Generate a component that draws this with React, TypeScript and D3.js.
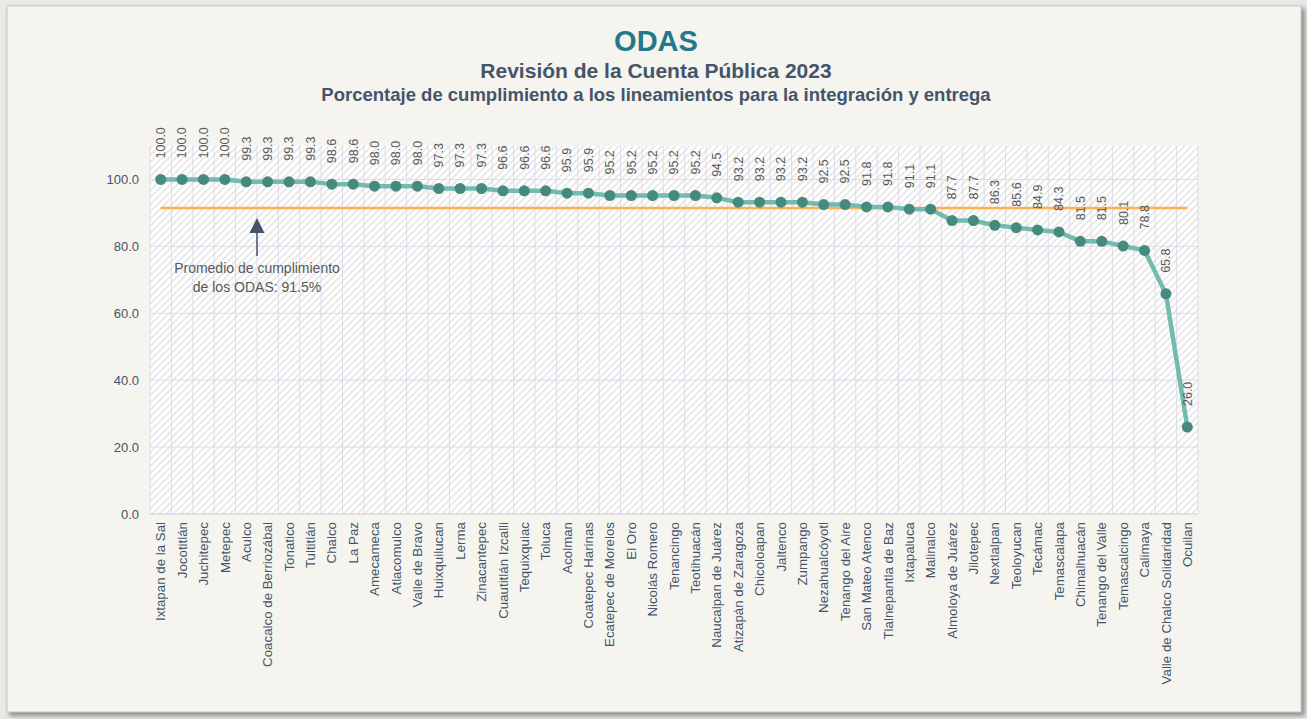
import React, { useEffect, useRef } from 'react';
import * as d3 from 'd3';

const categories = [
  'Ixtapan de la Sal', 'Jocotitlán', 'Juchitepec', 'Metepec', 'Aculco',
  'Coacalco de Berriozábal', 'Tonatico', 'Tultitlán', 'Chalco', 'La Paz',
  'Amecameca', 'Atlacomulco', 'Valle de Bravo', 'Huixquilucan', 'Lerma',
  'Zinacantepec', 'Cuautitlán Izcalli', 'Tequixquiac', 'Toluca', 'Acolman',
  'Coatepec Harinas', 'Ecatepec de Morelos', 'El Oro', 'Nicolás Romero', 'Tenancingo',
  'Teotihuacán', 'Naucalpan de Juárez', 'Atizapán de Zaragoza', 'Chicoloapan', 'Jaltenco',
  'Zumpango', 'Nezahualcóyotl', 'Tenango del Aire', 'San Mateo Atenco', 'Tlalnepantla de Baz',
  'Ixtapaluca', 'Malinalco', 'Almoloya de Juárez', 'Jilotepec', 'Nextlalpan',
  'Teoloyucan', 'Tecámac', 'Temascalapa', 'Chimalhuacán', 'Tenango del Valle',
  'Temascalcingo', 'Calimaya', 'Valle de Chalco Solidaridad', 'Ocuilan',
];

const values = [
  100.0, 100.0, 100.0, 100.0, 99.3,
  99.3, 99.3, 99.3, 98.6, 98.6,
  98.0, 98.0, 98.0, 97.3, 97.3,
  97.3, 96.6, 96.6, 96.6, 95.9,
  95.9, 95.2, 95.2, 95.2, 95.2,
  95.2, 94.5, 93.2, 93.2, 93.2,
  93.2, 92.5, 92.5, 91.8, 91.8,
  91.1, 91.1, 87.7, 87.7, 86.3,
  85.6, 84.9, 84.3, 81.5, 81.5,
  80.1, 78.8, 65.8, 26.0,
];

const yTicks = [0, 20, 40, 60, 80, 100];
const average = 91.5;
const annotationLines = ['Promedio de cumplimiento', 'de los ODAS: 91.5%'];

const FONT = '"Liberation Sans", Arial, sans-serif';
const WIDTH = 1307;
const HEIGHT = 719;

function App() {
  const svgRef = useRef<SVGSVGElement | null>(null);

  useEffect(() => {
    const svg = d3.select(svgRef.current);
    svg.selectAll('*').remove();

    const defs = svg.append('defs');

    // diagonal hatch used for the plot area
    const pattern = defs.append('pattern')
      .attr('id', 'hatch')
      .attr('patternUnits', 'userSpaceOnUse')
      .attr('width', 5)
      .attr('height', 5)
      .attr('patternTransform', 'rotate(45)');
    pattern.append('rect').attr('width', 5).attr('height', 5).attr('fill', '#ffffff');
    pattern.append('rect').attr('width', 2).attr('height', 5).attr('fill', '#e9e9e9');

    const blur = defs.append('filter').attr('id', 'shadow').attr('x', '-5%').attr('y', '-5%').attr('width', '110%').attr('height', '110%');
    blur.append('feGaussianBlur').attr('stdDeviation', 2.5);

    // frame
    svg.append('rect').attr('width', WIDTH).attr('height', HEIGHT).attr('fill', '#e9e9e7');
    svg.append('rect')
      .attr('x', 9).attr('y', 8).attr('width', 1296).attr('height', 708)
      .attr('fill', '#8c8c8a')
      .attr('filter', 'url(#shadow)');
    svg.append('rect')
      .attr('x', 7).attr('y', 6).attr('width', 1294).attr('height', 706)
      .attr('fill', '#f5f4ee')
      .attr('stroke', '#c9c9c7')
      .attr('stroke-width', 1);

    const x = d3.scaleBand<string>().domain(categories).range([150, 1198]);
    const y = d3.scaleLinear().domain([0, 110]).range([514, 146]);
    const cx = (c: string) => (x(c) as number) + x.bandwidth() / 2;

    const [x0, x1] = x.range();

    // plot area
    svg.append('rect')
      .attr('x', x0).attr('y', y(110))
      .attr('width', x1 - x0).attr('height', y(0) - y(110))
      .attr('fill', 'url(#hatch)');

    const grid = svg.append('g').attr('stroke', '#dfdbea').attr('stroke-width', 1);
    grid.selectAll('line.h')
      .data(yTicks.filter(t => t > 0))
      .enter()
      .append('line')
      .attr('class', 'h')
      .attr('x1', x0).attr('x2', x1)
      .attr('y1', d => y(d)).attr('y2', d => y(d));
    grid.selectAll('line.v')
      .data(categories.map(c => x(c) as number).concat([x1]))
      .enter()
      .append('line')
      .attr('class', 'v')
      .attr('x1', d => d).attr('x2', d => d)
      .attr('y1', y(110)).attr('y2', y(0));

    svg.append('line')
      .attr('x1', x0).attr('x2', x1)
      .attr('y1', y(0)).attr('y2', y(0))
      .attr('stroke', '#d9d9d9')
      .attr('stroke-width', 1.5);

    // y axis labels
    svg.append('g')
      .selectAll('text')
      .data(yTicks)
      .enter()
      .append('text')
      .attr('x', 139)
      .attr('y', d => y(d))
      .attr('dy', '0.35em')
      .attr('text-anchor', 'end')
      .attr('font-family', FONT)
      .attr('font-size', '13px')
      .attr('fill', '#44546a')
      .text(d => d.toFixed(1));

    // x axis labels
    svg.append('g')
      .selectAll('text')
      .data(categories)
      .enter()
      .append('text')
      .attr('transform', d => `translate(${cx(d)}, 522) rotate(-90)`)
      .attr('dy', '0.35em')
      .attr('text-anchor', 'end')
      .attr('font-family', FONT)
      .attr('font-size', '13.3px')
      .attr('fill', '#44546a')
      .text(d => d);

    // average line
    svg.append('line')
      .attr('x1', cx(categories[0]))
      .attr('x2', cx(categories[categories.length - 1]))
      .attr('y1', y(average)).attr('y2', y(average))
      .attr('stroke', '#ffb04f')
      .attr('stroke-width', 2.5);

    // series
    const line = d3.line<number>()
      .x((d, i) => cx(categories[i]))
      .y(d => y(d));

    svg.append('path')
      .datum(values)
      .attr('d', line)
      .attr('fill', 'none')
      .attr('stroke', '#72bbad')
      .attr('stroke-width', 4.5)
      .attr('stroke-linejoin', 'round');

    svg.append('g')
      .selectAll('circle')
      .data(values)
      .enter()
      .append('circle')
      .attr('cx', (d, i) => cx(categories[i]))
      .attr('cy', d => y(d))
      .attr('r', 5.5)
      .attr('fill', '#468a7d');

    // data labels
    svg.append('g')
      .selectAll('text')
      .data(values)
      .enter()
      .append('text')
      .attr('transform', (d, i) => `translate(${cx(categories[i])}, ${y(d) - 21}) rotate(-90)`)
      .attr('dy', '0.35em')
      .attr('text-anchor', 'start')
      .attr('font-family', FONT)
      .attr('font-size', '12.5px')
      .attr('fill', '#595959')
      .text(d => d.toFixed(1));

    // annotation arrow
    const ax = 257;
    svg.append('line')
      .attr('x1', ax).attr('x2', ax)
      .attr('y1', 256).attr('y2', 232)
      .attr('stroke', '#44546a')
      .attr('stroke-width', 1.5);
    svg.append('path')
      .attr('d', `M${ax},218 L${ax + 7.5},233 L${ax - 7.5},233 Z`)
      .attr('fill', '#44546a');

    svg.append('g')
      .selectAll('text')
      .data(annotationLines)
      .enter()
      .append('text')
      .attr('x', ax)
      .attr('y', (d, i) => 273 + i * 19)
      .attr('text-anchor', 'middle')
      .attr('font-family', FONT)
      .attr('font-size', '14px')
      .attr('fill', '#595959')
      .text(d => d);

    // titles
    const titles = svg.append('g').attr('font-family', FONT).attr('font-weight', 'bold').attr('text-anchor', 'middle');
    titles.append('text')
      .attr('x', 656).attr('y', 51)
      .attr('font-size', '29px')
      .attr('fill', '#23788b')
      .text('ODAS');
    titles.append('text')
      .attr('x', 656).attr('y', 78)
      .attr('font-size', '21px')
      .attr('fill', '#44546a')
      .text('Revisión de la Cuenta Pública 2023');
    titles.append('text')
      .attr('x', 656).attr('y', 101)
      .attr('font-size', '18.5px')
      .attr('fill', '#44546a')
      .text('Porcentaje de cumplimiento a los lineamientos para la integración y entrega');
  }, []);

  return (
    <div style={{ position: 'absolute', left: 0, top: 0 }}>
      <svg ref={svgRef} width={WIDTH} height={HEIGHT} style={{ display: 'block' }} />
    </div>
  );
}

export default App;
